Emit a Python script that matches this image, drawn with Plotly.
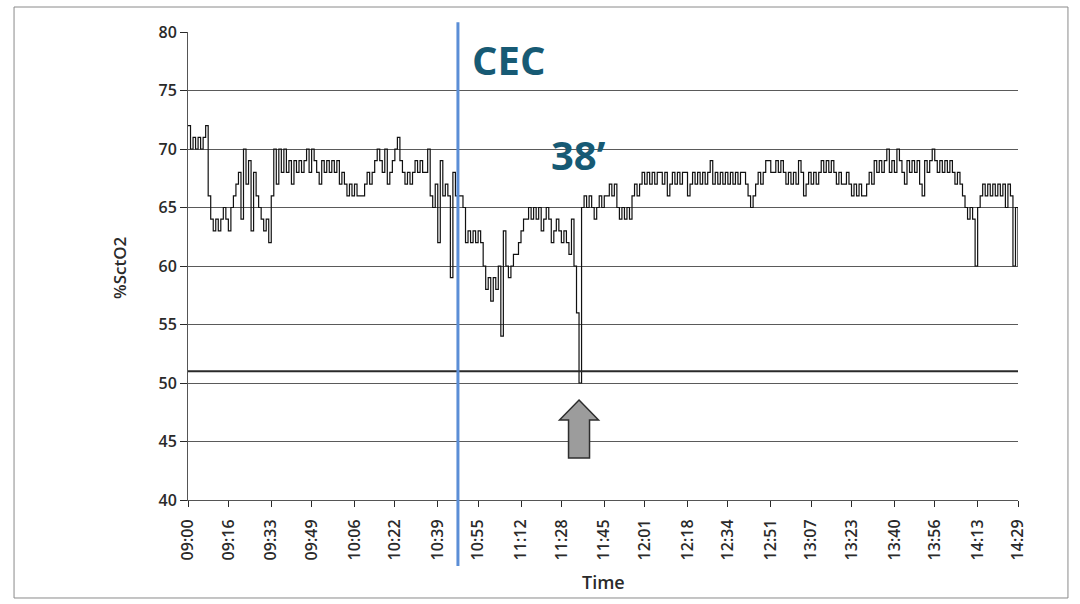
import plotly.graph_objects as go

# Time-axis labels (category ticks of the monitoring export)
tick_labels = ["09:00", "09:16", "09:33", "09:49", "10:06", "10:22", "10:39",
               "10:55", "11:12", "11:28", "11:45", "12:01", "12:18", "12:34",
               "12:51", "13:07", "13:23", "13:40", "13:56", "14:13", "14:29"]

# Regional cerebral oxygen saturation, one reading per minute from 09:00
sct_o2 = [
    72, 70, 71, 70, 71, 70, 71, 72, 66, 64,
    63, 64, 63, 64, 65, 64, 63, 65, 66, 67,
    68, 64, 70, 67, 69, 63, 68, 66, 65, 64,
    63, 64, 62, 66, 70, 67, 70, 68, 70, 68,
    69, 67, 69, 68, 69, 68, 69, 70, 68, 70,
    69, 68, 67, 69, 68, 69, 68, 69, 68, 69,
    67, 68, 67, 66, 67, 66, 67, 66, 66, 66,
    67, 68, 67, 68, 69, 70, 69, 68, 70, 67,
    68, 69, 70, 71, 69, 68, 67, 68, 67, 68,
    69, 68, 69, 68, 68, 70, 66, 65, 67, 62,
    69, 66, 67, 66, 59, 68, 66, 66, 66, 65,
    62, 63, 62, 63, 62, 63, 62, 60, 58, 59,
    57, 59, 58, 60, 54, 63, 60, 59, 60, 61,
    61, 62, 63, 64, 64, 65, 64, 65, 64, 65,
    63, 64, 65, 64, 62, 63, 64, 63, 62, 63,
    62, 61, 64, 60, 56, 50, 65, 66, 65, 66,
    65, 64, 65, 66, 65, 66, 66, 67, 66, 67,
    65, 64, 65, 64, 65, 64, 66, 67, 66, 67,
    68, 67, 68, 67, 68, 67, 68, 68, 67, 68,
    66, 67, 68, 67, 68, 67, 68, 68, 66, 67,
    68, 67, 68, 67, 68, 67, 68, 69, 67, 68,
    67, 68, 67, 68, 67, 68, 67, 68, 67, 68,
    68, 67, 66, 65, 66, 67, 68, 67, 68, 69,
    69, 68, 68, 69, 68, 69, 68, 67, 68, 67,
    68, 67, 69, 68, 66, 67, 68, 67, 68, 67,
    68, 69, 68, 69, 68, 69, 68, 67, 68, 67,
    67, 68, 67, 66, 67, 66, 67, 66, 66, 67,
    68, 67, 69, 68, 69, 68, 69, 70, 68, 69,
    68, 70, 69, 68, 67, 69, 68, 69, 68, 69,
    67, 66, 69, 68, 69, 70, 69, 68, 69, 68,
    69, 68, 69, 68, 67, 68, 67, 66, 65, 64,
    65, 64, 60, 65, 66, 67, 66, 67, 66, 67,
    66, 67, 66, 67, 65, 67, 66, 60, 65, 60,
]

cec_start = "10:47"      # start of cardiopulmonary bypass
threshold = 51           # alarm threshold line
y_ticks = [40, 45, 50, 55, 60, 65, 70, 75, 80]


def to_minutes(hhmm):
    h, m = (int(p) for p in hhmm.split(":"))
    return (h - 9) * 60 + m


minutes = list(range(len(sct_o2)))
tick_vals = [to_minutes(t) for t in tick_labels]
cec_x = to_minutes(cec_start)
dip_x = minutes[sct_o2.index(min(sct_o2))]
dip_y = min(sct_o2)

FONT = "Open Sans"
INK = "#2a2a2a"

fig = go.Figure()
fig.add_trace(go.Scatter(
    x=minutes, y=sct_o2, mode="lines", line_shape="hv",
    line=dict(color="#111111", width=1.2), hoverinfo="skip", showlegend=False,
))

shapes = [
    # threshold line
    dict(type="line", xref="x", yref="y", x0=0, x1=minutes[-1], y0=threshold, y1=threshold,
         line=dict(color="#2a2a2a", width=2)),
    # CEC marker
    dict(type="line", xref="x", yref="paper", x0=cec_x, x1=cec_x, y0=-0.141, y1=1.021,
         line=dict(color="#5b8ed6", width=3)),
    # block arrow under the desaturation dip
    dict(type="path", xref="x", yref="y", xsizemode="pixel", ysizemode="pixel",
         xanchor=dip_x, yanchor=dip_y,
         path="M 0,-17 L 19.5,-37 L 10.5,-37 L 10.5,-75 L -10.5,-75 L -10.5,-37 L -19.5,-37 Z",
         fillcolor="#9c9c9c", line=dict(color="#2e2e2e", width=1.5)),
    # page border
    dict(type="rect", xref="paper", yref="paper", x0=-0.2096, x1=1.0602, y0=-0.2094, y1=1.0534,
         line=dict(color="#8a8a8a", width=1)),
]

annotations = [
    dict(text="CEC", xref="paper", yref="paper", x=(508 - 188) / 830, y=(500 - 59) / 468,
         xanchor="center", yanchor="middle", showarrow=False,
         font=dict(family=FONT, size=40, color="#175a74", weight=700)),
    dict(text="38’", xref="paper", yref="paper", x=(578 - 188) / 830, y=(500 - 154) / 468,
         xanchor="center", yanchor="middle", showarrow=False,
         font=dict(family=FONT, size=40, color="#175a74", weight=700)),
    dict(text="Time", xref="paper", yref="paper", x=0.5, y=(500 - 582) / 468,
         xanchor="center", yanchor="middle", showarrow=False,
         font=dict(family=FONT, size=18, color=INK, weight=600)),
    dict(text="%SctO2", xref="paper", yref="paper", x=(119 - 188) / 830, y=(500 - 268) / 468,
         xanchor="center", yanchor="middle", textangle=-90, showarrow=False,
         font=dict(family=FONT, size=17, color=INK, weight=600)),
]

fig.update_layout(
    width=1080, height=604,
    margin=dict(l=188, r=62, t=32, b=104),
    paper_bgcolor="white", plot_bgcolor="white",
    shapes=shapes, annotations=annotations,
    xaxis=dict(
        range=[0, minutes[-1]], tickmode="array", tickvals=tick_vals, ticktext=tick_labels,
        tickangle=-90, ticks="outside", ticklen=6, tickcolor=INK, showgrid=False,
        ticklabelstandoff=6,
        showline=True, linecolor="#555555", linewidth=1, zeroline=False,
        tickfont=dict(family=FONT, size=16, color=INK, weight=600),
    ),
    yaxis=dict(
        range=[40, 80], tickmode="array", tickvals=y_ticks,
        ticks="outside", ticklen=7, tickcolor=INK, showgrid=True, gridcolor="#5a5a5a", gridwidth=1,
        showline=True, linecolor="#555555", linewidth=1, zeroline=False,
        tickfont=dict(family=FONT, size=16, color=INK, weight=600),
    ),
)

fig.write_html("out.html")
